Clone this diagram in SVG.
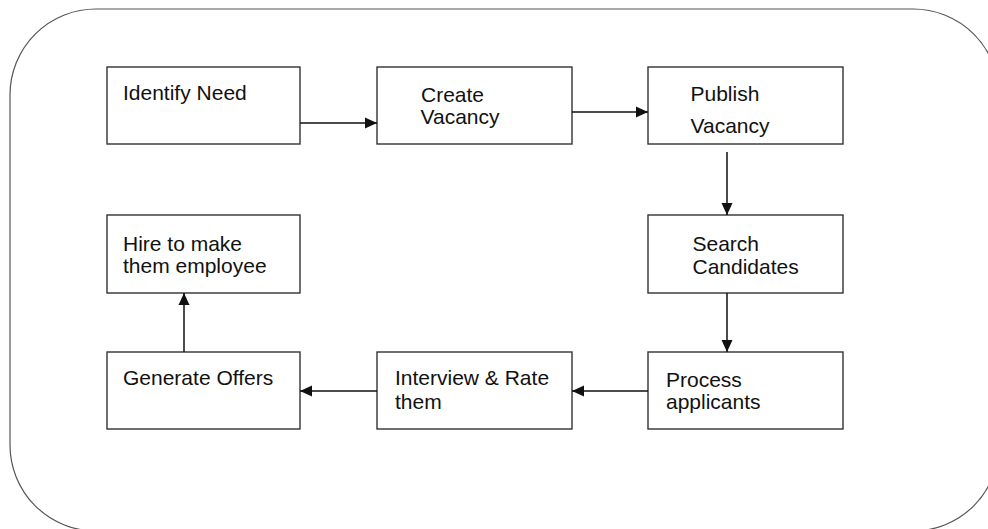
<svg xmlns="http://www.w3.org/2000/svg" width="988" height="529" viewBox="0 0 988 529">
  <style>
    .box { fill: #ffffff; stroke: #333333; stroke-width: 1.4; }
    .lbl { font-family: "Liberation Sans", Arial, sans-serif; font-size: 21px; fill: #111111; }
    .conn { fill: none; stroke: #111111; stroke-width: 1.5; marker-end: url(#arrow); }
  </style>
  <defs>
    <marker id="arrow" markerUnits="userSpaceOnUse" markerWidth="12" markerHeight="12" refX="12" refY="6" orient="auto">
      <path d="M0,0.5 L12,6 L0,11.5 z" fill="#111111"/>
    </marker>
  </defs>
  <rect x="0" y="0" width="988" height="529" fill="#ffffff"/>
  <rect id="frame" x="10" y="9" width="989" height="522" rx="86" ry="86" fill="none" stroke="#555555" stroke-width="1.2"/>

  <g id="identify-need">
    <rect class="box" x="107" y="67" width="193" height="77"/>
    <text class="lbl" x="123" y="100">Identify Need</text>
  </g>
  <g id="create-vacancy">
    <rect class="box" x="377" y="67" width="195" height="77"/>
    <text class="lbl" x="421" y="101.5">Create</text>
    <text class="lbl" x="420.5" y="124">Vacancy</text>
  </g>
  <g id="publish-vacancy">
    <rect class="box" x="648" y="67" width="195" height="77"/>
    <text class="lbl" x="690.5" y="101">Publish</text>
    <text class="lbl" x="690.5" y="132.5">Vacancy</text>
  </g>
  <g id="search-candidates">
    <rect class="box" x="648" y="215" width="195" height="78"/>
    <text class="lbl" x="692.5" y="251">Search</text>
    <text class="lbl" x="692.5" y="274">Candidates</text>
  </g>
  <g id="hire">
    <rect class="box" x="107" y="215" width="193" height="78"/>
    <text class="lbl" x="123" y="251">Hire to make</text>
    <text class="lbl" x="123" y="273">them employee</text>
  </g>
  <g id="process-applicants">
    <rect class="box" x="648" y="352" width="195" height="77"/>
    <text class="lbl" x="666" y="386.5">Process</text>
    <text class="lbl" x="666" y="409">applicants</text>
  </g>
  <g id="interview">
    <rect class="box" x="377" y="352" width="195" height="77"/>
    <text class="lbl" x="395" y="385">Interview &amp; Rate</text>
    <text class="lbl" x="395" y="409">them</text>
  </g>
  <g id="generate-offers">
    <rect class="box" x="107" y="352" width="193" height="77"/>
    <text class="lbl" x="123" y="385">Generate Offers</text>
  </g>

  <g id="connectors">
    <line class="conn" x1="300" y1="123" x2="377" y2="123"/>
    <line class="conn" x1="572" y1="112" x2="648" y2="112"/>
    <line class="conn" x1="727" y1="152" x2="727" y2="215"/>
    <line class="conn" x1="727" y1="293" x2="727" y2="352"/>
    <line class="conn" x1="648" y1="391" x2="572" y2="391"/>
    <line class="conn" x1="377" y1="391" x2="300" y2="391"/>
    <line class="conn" x1="184" y1="352" x2="184" y2="293"/>
  </g>
</svg>
